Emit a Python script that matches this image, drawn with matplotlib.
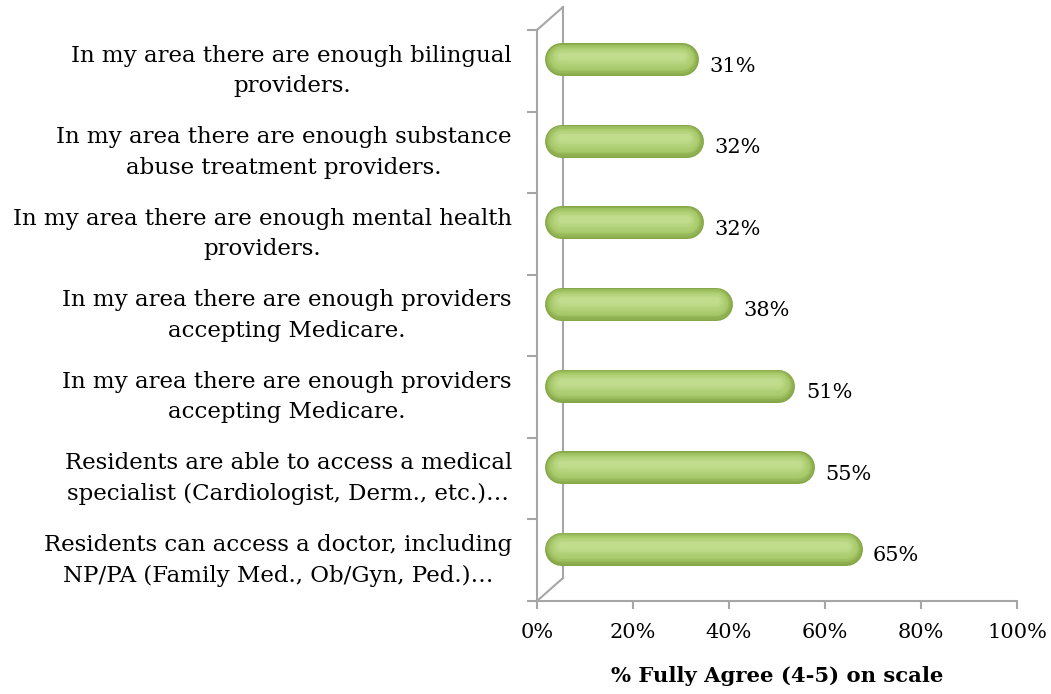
import numpy as np
import matplotlib.pyplot as plt
import matplotlib.transforms as mtransforms
from matplotlib.lines import Line2D
from matplotlib.colors import to_rgb

labels = [
    "Residents can access a doctor, including\nNP/PA (Family Med., Ob/Gyn, Ped.)\u2026",
    "Residents are able to access a medical\nspecialist (Cardiologist, Derm., etc.)\u2026",
    "In my area there are enough providers\naccepting Medicare.",
    "In my area there are enough providers\naccepting Medicare.",
    "In my area there are enough mental health\nproviders.",
    "In my area there are enough substance\nabuse treatment providers.",
    "In my area there are enough bilingual\nproviders.",
]
values = [0.65, 0.55, 0.51, 0.38, 0.32, 0.32, 0.31]
ticks = [0, 0.2, 0.4, 0.6, 0.8, 1.0]
tick_labels = ["0%", "20%", "40%", "60%", "80%", "100%"]

W, H = 1051, 694
fig = plt.figure(figsize=(W / 100, H / 100), dpi=100)
plt.rcParams['font.family'] = ['DejaVu Serif']

x0, x1, yb, yt = 537, 1017, 601, 30
ax = fig.add_axes([x0 / W, 1 - yb / H, (x1 - x0) / W, (yb - yt) / H])
n = len(values)
ax.set_xlim(0, 1)
ax.set_ylim(-0.5, n - 0.5)
for s in ax.spines.values():
    s.set_visible(False)

grey = '#a6a6a6'
# 3D depth in pixels
dx, dy = 26, 23
pt = 72 / 100.0


def shifted(ox, oy):
    return ax.transData + mtransforms.ScaledTranslation(ox / 100, oy / 100, fig.dpi_scale_trans)


# left axis (front) and back wall line
ax.plot([0, 0], [-0.5, n - 0.5], color=grey, lw=1.5, clip_on=False)
ax.plot([0, 0], [-0.5, n - 0.5], color=grey, lw=1.5, clip_on=False, transform=shifted(dx, dy))
for yy in [-0.5, n - 0.5]:
    tr = ax.transData.transform((0, yy))
    fig.add_artist(Line2D([tr[0] / W, (tr[0] + dx) / W], [tr[1] / H, (tr[1] + dy) / H],
                          color=grey, lw=1.5))
# bottom axis
ax.plot([0, 1], [-0.5, -0.5], color=grey, lw=1.5, clip_on=False)
ax.set_xticks(ticks)
ax.set_xticklabels(tick_labels, fontsize=15)
ax.tick_params(axis='x', length=6, width=1.5, color=grey, pad=10)
ax.set_yticks([i - 0.5 for i in range(n + 1)])
ax.set_yticklabels([])
ax.tick_params(axis='y', length=7, width=1.5, color=grey)
for i, lab in enumerate(labels):
    ax.annotate(lab, (0, i), xytext=(-18, 0), textcoords='offset points',
                ha='right', va='center', multialignment='center', fontsize=16.5,
                linespacing=1.5)

ax.set_xlabel("% Fully Agree (4-5) on scale", fontsize=15.2, fontweight='bold', labelpad=17)

# cylinder-like bars: stacked round-capped lines for shading
bh = 33  # pixels
r = bh / 2 / (x1 - x0)
bx, by = dx / 2, dy / 2
start = 11 / (x1 - x0)
c_edge = np.array(to_rgb('#86a748'))
c_mid = np.array(to_rgb('#a6c868'))
c_hi = np.array(to_rgb('#c0dc8c'))
N = 12
for i, v in enumerate(values):
    for k in range(N):
        f = k / (N - 1)
        w = bh * (1 - 0.8 * f)
        if f < 0.34:
            c = c_edge + (c_mid - c_edge) * f / 0.34
        else:
            c = c_mid + (c_hi - c_mid) * (f - 0.34) / 0.66
        tr = shifted(bx, by + 3.5 * f)
        ax.plot([start, v - r], [i, i], color=c, lw=w * pt, solid_capstyle='round',
                transform=tr, clip_on=False)
    ax.annotate(f"{round(v * 100)}%", (v, i), xytext=((bx + 11) * pt, (by - 7) * pt),
                textcoords='offset points', ha='left', va='center', fontsize=15)

fig.savefig('out.png', dpi=100)
